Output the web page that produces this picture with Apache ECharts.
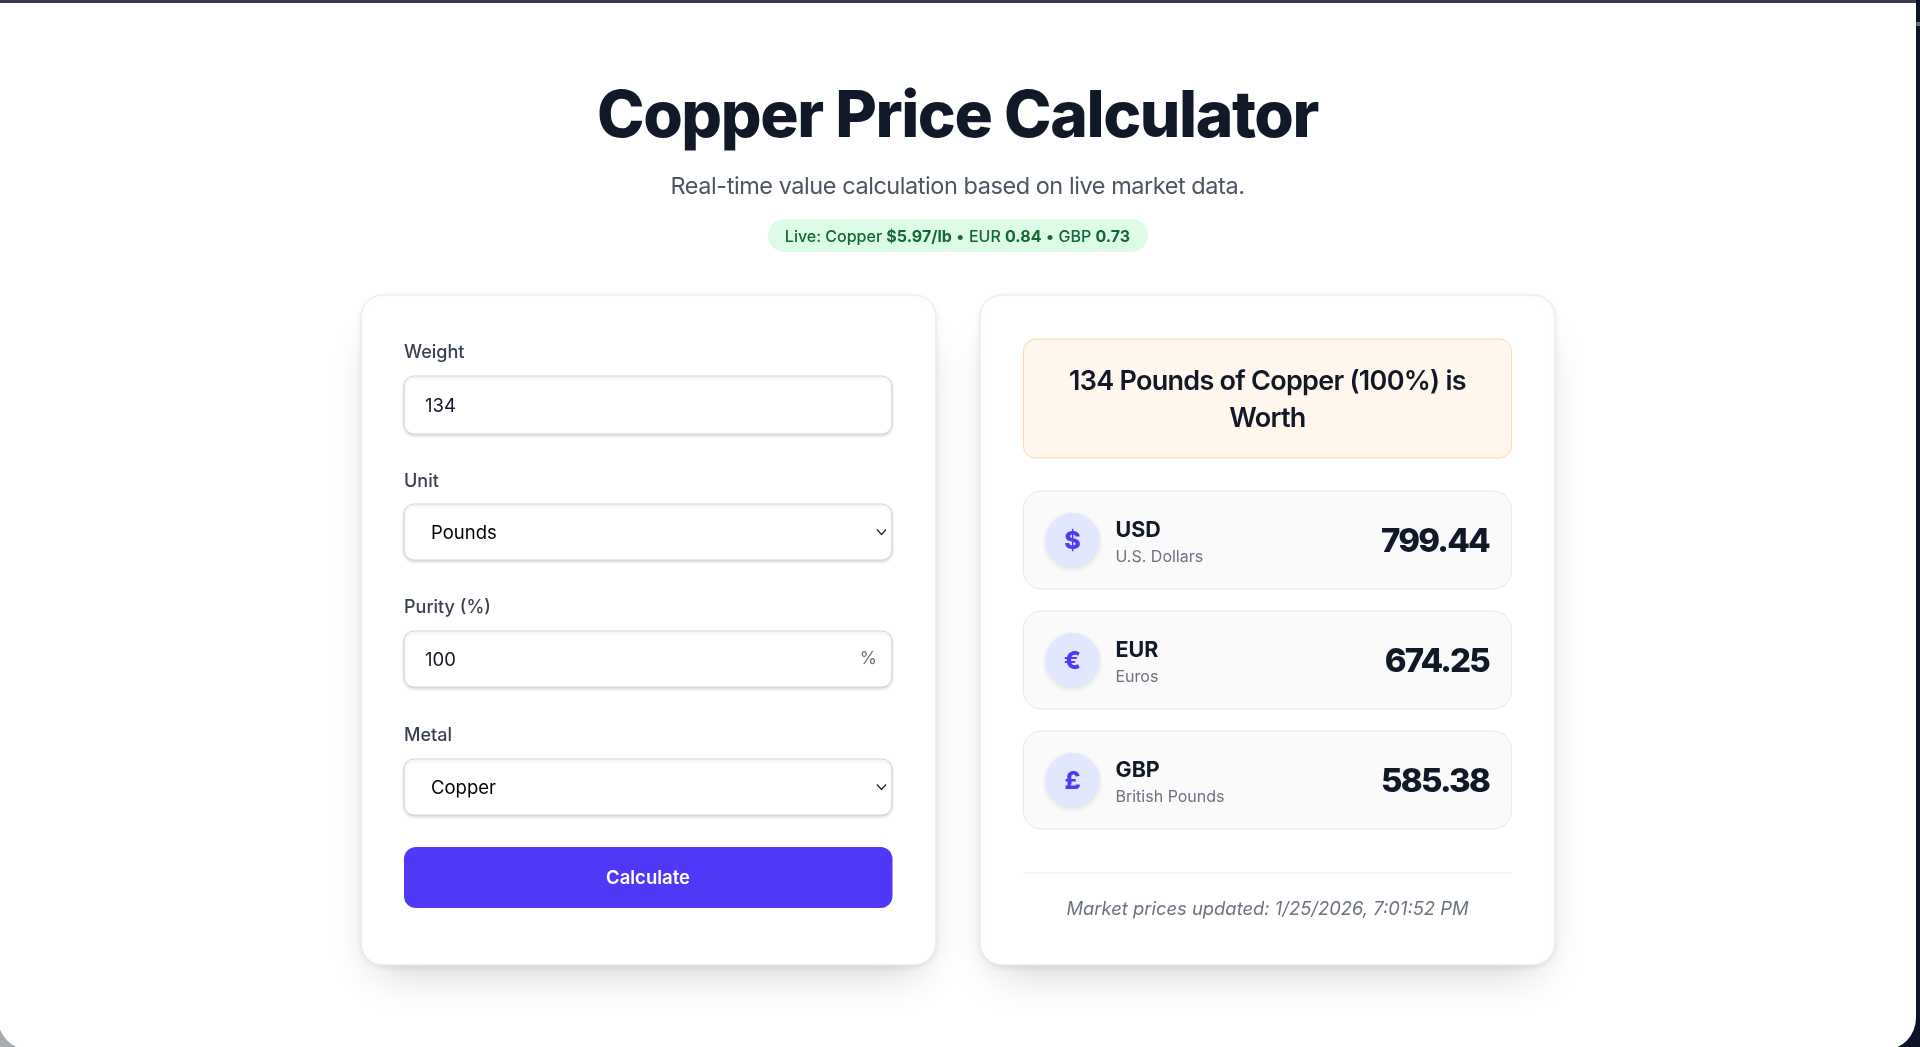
<!DOCTYPE html>
<html lang="en">
<head>
  <meta charset="UTF-8">
  <title>Copper Price Calculator</title>
  <script src="https://cdn.jsdelivr.net/npm/echarts@6/dist/echarts.min.js"></script>
  <style>
    html, body { margin: 0; padding: 0; background: #fff; overflow: hidden; }
    #chart { width: 1920px; height: 1047px; }
  </style>
</head>
<body>
  <div id="chart"></div>
  <script>
    // page text
    const pageTitle = 'Copper Price Calculator';
    const pageSubtitle = 'Real-time value calculation based on live market data.';
    const liveBadge = 'Live: Copper {b|$5.97/lb} • EUR {b|0.84} • GBP {b|0.73}';

    // form fields
    const fieldLabels = ['Weight', 'Unit', 'Purity (%)', 'Metal'];
    const fieldValues = ['134', 'Pounds', '100', 'Copper'];
    const buttonLabel = 'Calculate';

    // results
    const resultLines = ['134 Pounds of Copper (100%) is', 'Worth'];
    const currencySymbols = ['$', '€', '£'];
    const currencyCodes = ['USD', 'EUR', 'GBP'];
    const currencyNames = ['U.S. Dollars', 'Euros', 'British Pounds'];
    const currencyAmounts = ['799.44', '674.25', '585.38'];
    const footerNote = 'Market prices updated: 1/25/2026, 7:01:52 PM';

    // layout
    const labelY = [353, 481.5, 608, 736];
    const inputTop = [376, 504, 631, 759];
    const inputHeight = [58, 56, 56, 56];
    const valueX = [425, 431, 425, 431];
    const rowTop = [491, 611, 731];

    const FONT = 'Inter';
    const INK = '#111827';
    const ACCENT = '#5038f8';

    // tracking for the big text (px per glyph, keyed by font size)
    const tracking = { 64: -1.43, 23.5: -0.45, 27: -0.73, 33: -1.8 };
    const nativeFillText = CanvasRenderingContext2D.prototype.fillText;
    CanvasRenderingContext2D.prototype.fillText = function (text, x, y) {
      const size = parseFloat(this.font.match(/([\d.]+)px/)[1]);
      this.letterSpacing = (tracking[size] || 0) + 'px';
      nativeFillText.call(this, text, x, y);
      this.letterSpacing = '0px';
    };

    function label(x, y, text, size, color, weight, align, extra) {
      return {
        type: 'text',
        x: x, y: y,
        style: {
          text: text,
          font: (extra && extra.italic ? 'italic ' : '') + (weight || 400) + ' ' + size + 'px ' + FONT,
          fill: color,
          align: align || 'left',
          verticalAlign: 'middle'
        }
      };
    }

    function box(x, y, w, h, r, fill, stroke, shadow) {
      return {
        type: 'rect',
        shape: { x: x, y: y, width: w, height: h, r: r },
        style: Object.assign({ fill: fill, stroke: stroke || null, lineWidth: stroke ? 1 : 0 }, shadow)
      };
    }

    const softShadow = { shadowColor: 'rgba(17,24,39,0.16)', shadowBlur: 3, shadowOffsetY: 1.5 };
    const els = [];

    // window frame behind the page
    els.push(box(0, 0, 960, 1047, 0, '#a7aaae'));
    els.push(box(960, 0, 960, 1047, 0, '#0e1428'));
    els.push(box(1916, 22, 4, 4, 0, '#6b7080'));
    els.push(box(-2, 0, 1918, 1050, [0, 0, 32, 32], '#ffffff'));
    els.push(box(0, 0, 1916, 3, 0, '#3c3c50'));

    // header
    els.push(label(957.5, 118, pageTitle, 64, INK, 800, 'center'));
    els.push(label(957.5, 186.5, pageSubtitle, 23.5, '#4b5563', 400, 'center'));
    els.push(box(768, 219, 380, 33, 16.5, '#dcfce7'));
    els.push({
      type: 'text',
      x: 957.5, y: 237,
      style: {
        text: liveBadge,
        font: '500 16px ' + FONT,
        fill: '#166534',
        align: 'center',
        verticalAlign: 'middle',
        rich: { b: { font: '700 16px ' + FONT, fill: '#166534' } }
      }
    });

    // cards
    [361, 980].forEach(function (x) {
      els.push(box(x + 14, 320, 547, 632, 20, '#ffffff', null, {
        shadowColor: 'rgba(17,24,39,0.2)', shadowBlur: 44, shadowOffsetY: 20
      }));
      els.push(box(x, 295, 575, 670, 22, '#ffffff', '#e5e7eb', {
        shadowColor: 'rgba(17,24,39,0.08)', shadowBlur: 6, shadowOffsetY: 2
      }));
    });

    // form
    fieldLabels.forEach(function (name, i) {
      els.push(label(404, labelY[i], name, 18, '#374151', 500));
      els.push(box(404, inputTop[i], 488, inputHeight[i], 10, '#ffffff', '#d1d5db', softShadow));
      els.push(label(valueX[i], inputTop[i] + inputHeight[i] / 2 + 1, fieldValues[i], 18.5, i % 2 ? '#000000' : INK));
      if (i % 2 === 1) {
        const cy = inputTop[i] + inputHeight[i] / 2;
        els.push({
          type: 'polyline',
          shape: { points: [[877, cy - 2.5], [881.5, cy + 2.5], [886, cy - 2.5]] },
          style: { fill: null, stroke: '#1f2937', lineWidth: 1.3 }
        });
      }
    });
    els.push(label(877, 659, '%', 17.5, '#6b7280', 400, 'right'));
    els.push(box(404, 847, 488.5, 61, 12, ACCENT));
    els.push(label(648, 878.5, buttonLabel, 18.5, '#ffffff', 600, 'center'));

    // result heading
    els.push(box(1023.5, 339, 488, 119, 12, '#fff7ed', '#fed7aa'));
    resultLines.forEach(function (line, i) {
      els.push(label(1267.5, 382 + i * 37, line, 27, INK, 600, 'center'));
    });

    // currency rows
    currencyCodes.forEach(function (code, i) {
      const top = rowTop[i];
      const cy = top + 49;
      els.push(box(1023.5, top, 488, 98, 18, '#f9faf9', '#e5e7eb'));
      els.push({
        type: 'circle',
        shape: { cx: 1072.5, cy: cy, r: 27 },
        style: { fill: '#e0e7ff', shadowColor: 'rgba(17,24,39,0.12)', shadowBlur: 5, shadowOffsetY: 2 }
      });
      els.push(label(1072.5, cy + 1, currencySymbols[i], 25, ACCENT, 800, 'center'));
      els.push(label(1115.5, cy - 9, code, 21.5, INK, 700));
      els.push(label(1115.5, cy + 17, currencyNames[i], 16, '#6b7280'));
      els.push(label(1489, cy + 2.5, currencyAmounts[i], 33, INK, 800, 'right'));
    });

    // footer
    els.push({ type: 'line', shape: { x1: 1023, y1: 873, x2: 1512, y2: 873 }, style: { stroke: '#f1f3f5', lineWidth: 1.5 } });
    els.push(label(1267.5, 909, footerNote, 18.4, '#6b7280', 400, 'center', { italic: true }));

    const chart = echarts.init(document.getElementById('chart'));
    chart.setOption({
      animation: false,
      backgroundColor: '#ffffff',
      graphic: { elements: els.map(function (el) { return Object.assign({ silent: true }, el); }) }
    });
  </script>
</body>
</html>
